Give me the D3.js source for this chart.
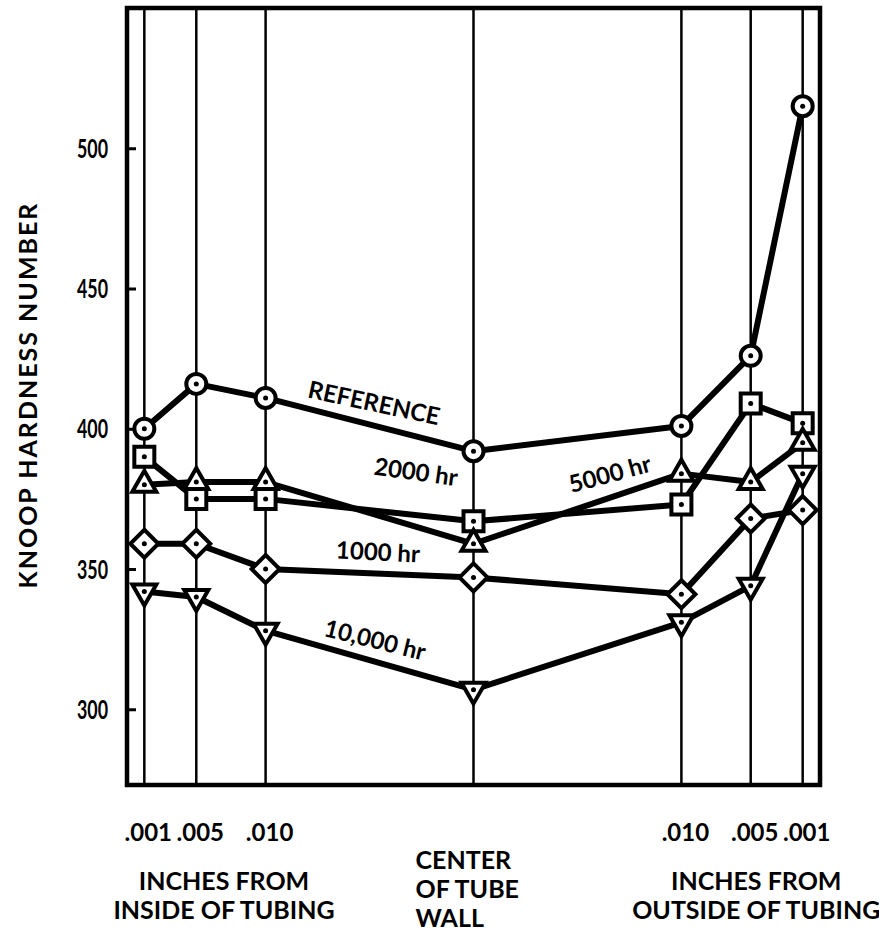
<!DOCTYPE html>
<html>
<head>
<meta charset="utf-8">
<script src="https://cdn.jsdelivr.net/npm/d3@7/dist/d3.min.js"></script>
<style>
  html, body { margin: 0; padding: 0; background: #fff; }
  svg { display: block; }
  text { font-family: "Lato", "DejaVu Sans", sans-serif; font-weight: 700; fill: #000; }
</style>
</head>
<body>
<svg id="chart" width="879" height="942"></svg>
<script>
// ---------------- data ----------------
const categories = ["in-.001", "in-.005", "in-.010", "center", "out-.010", "out-.005", "out-.001"];
const xTickLabels = [".001", ".005", ".010", "", ".010", ".005", ".001"];
const referenceValues = [400, 416, 411, 392, 401, 426, 515];
const hr2000Values   = [390, 375, 375, 367, 373, 409, 402];
const hr5000Values   = [380, 381, 381, 359, 384, 381, 395];
const hr1000Values   = [359, 359, 350, 347, 341, 368, 371];
const hr10000Values  = [342, 340, 328, 307, 331, 344, 384];
const yTicks = [300, 350, 400, 450, 500];
const seriesNames = ["REFERENCE", "2000 hr", "5000 hr", "1000 hr", "10,000 hr"];
const seriesValues = [referenceValues, hr2000Values, hr5000Values, hr1000Values, hr10000Values];
const seriesMarkers = ["circle", "square", "triangleUp", "diamond", "triangleDown"];
const yTitle = "KNOOP HARDNESS NUMBER";

// ---------------- layout ----------------
const plot = { left: 127, right: 820, top: 8, bottom: 785 };
const svg = d3.select("#chart");

const xFrac = d3.scaleOrdinal(categories, [0.025, 0.1, 0.2, 0.5, 0.8, 0.9, 0.975]);
const xLin = d3.scaleLinear([0, 1], [plot.left, plot.right]);
const x = c => xLin(xFrac(c));
const y = d3.scaleLinear([273, 550], [plot.bottom, plot.top]);

// vertical grid lines at each measurement position
svg.append("g").selectAll("line").data(categories).join("line")
  .attr("x1", d => x(d)).attr("x2", d => x(d))
  .attr("y1", plot.top).attr("y2", plot.bottom)
  .attr("stroke", "#000").attr("stroke-width", 2.5);

// frame
svg.append("rect")
  .attr("x", plot.left).attr("y", plot.top)
  .attr("width", plot.right - plot.left).attr("height", plot.bottom - plot.top)
  .attr("fill", "none").attr("stroke", "#000").attr("stroke-width", 4.5);

// y axis (ticks inside)
const yAxis = d3.axisLeft(y).tickValues(yTicks).tickSize(-9).tickPadding(19).tickFormat(d3.format("d"));
const gy = svg.append("g").attr("transform", `translate(${plot.left},0)`).call(yAxis);
gy.select(".domain").remove();
gy.selectAll(".tick line").attr("stroke", "#000").attr("stroke-width", 3);
gy.selectAll(".tick text").attr("font-size", 26).attr("font-family", "Lato, sans-serif").attr("font-weight", 700)
  .attr("dy", "0.35em")
  .attr("textLength", 31).attr("lengthAdjust", "spacingAndGlyphs");

// y title
svg.append("text")
  .attr("transform", `translate(37,${(200 + 590) / 2}) rotate(-90)`)
  .attr("text-anchor", "middle")
  .attr("font-size", 25)
  .attr("letter-spacing", 2)
  .text(yTitle);

// x tick labels
svg.append("g").selectAll("text").data(categories.filter((c, i) => xTickLabels[i] !== "")).join("text")
  .attr("x", d => x(d) + 4)
  .attr("y", 841)
  .attr("text-anchor", "middle")
  .attr("font-size", 24)
  .text(d => xTickLabels[categories.indexOf(d)]);

// x group labels
const groups = [
  { lines: ["INCHES FROM", "INSIDE OF TUBING"], cx: xLin(0.14), anchor: "middle" },
  { lines: ["CENTER", "OF TUBE", "WALL"], cx: xLin(0.5) - 58, anchor: "start" },
  { lines: ["INCHES FROM", "OUTSIDE OF TUBING"], cx: xLin(0.908), anchor: "middle" }
];
groups.forEach((g, gi) => {
  const t = svg.append("text").attr("font-size", 25).attr("text-anchor", g.anchor);
  g.lines.forEach((ln, i) => {
    t.append("tspan").attr("x", g.cx).attr("y", (gi === 1 ? 869 : 890) + i * 29).text(ln);
  });
});

// series lines
const line = d3.line().x((d, i) => x(categories[i])).y(d => y(d));
svg.append("g").selectAll("path").data(seriesValues).join("path")
  .attr("d", d => line(d))
  .attr("fill", "none").attr("stroke", "#000").attr("stroke-width", 6)
  .attr("stroke-linejoin", "round");

// markers
const markerPath = {
  circle: "M10,0A10,10 0 1,1 -10,0A10,10 0 1,1 10,0Z",
  square: "M-10,-10H10V10H-10Z",
  triangleUp: "M0,-14L12,7L-12,7Z",
  diamond: "M0,-14L14,0L0,14L-14,0Z",
  triangleDown: "M0,14L12,-7L-12,-7Z"
};
seriesValues.forEach((vals, si) => {
  const g = svg.append("g");
  g.selectAll("path").data(vals).join("path")
    .attr("transform", (d, i) => `translate(${x(categories[i])},${y(d)})`)
    .attr("d", markerPath[seriesMarkers[si]])
    .attr("fill", "#fff").attr("stroke", "#000").attr("stroke-width", 4)
    .attr("stroke-linejoin", "miter");
  g.selectAll("circle").data(vals).join("circle")
    .attr("cx", (d, i) => x(categories[i])).attr("cy", d => y(d))
    .attr("r", 2.5).attr("fill", "#000");
});

// series labels on the chart
const seriesLabelPos = [
  { name: seriesNames[0], cx: 374, cy: 403, rot: 12 },
  { name: seriesNames[1], cx: 416, cy: 472, rot: 8 },
  { name: seriesNames[2], cx: 610, cy: 474, rot: -15 },
  { name: seriesNames[3], cx: 378, cy: 552, rot: 3 },
  { name: seriesNames[4], cx: 375, cy: 640, rot: 14 }
];
svg.append("g").selectAll("text").data(seriesLabelPos).join("text")
  .attr("transform", d => `translate(${d.cx},${d.cy}) rotate(${d.rot})`)
  .attr("text-anchor", "middle").attr("dy", "0.35em")
  .attr("font-size", 24)
  .text(d => d.name);
</script>
</body>
</html>
